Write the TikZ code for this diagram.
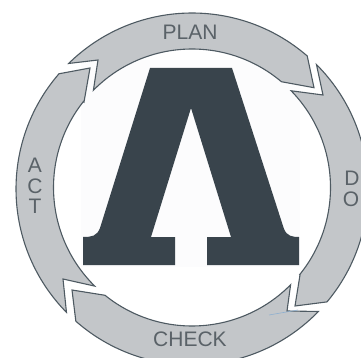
\documentclass[tikz,border=0pt]{standalone}
\usepackage{fontspec}
\setmainfont{Liberation Sans}
\definecolor{ringfill}{HTML}{C3C6C9}
\definecolor{ringline}{HTML}{4E5A62}
\definecolor{logodark}{HTML}{39444C}
\definecolor{labelgray}{HTML}{5A6268}
\definecolor{paleback}{HTML}{FCFCFD}
\definecolor{paleblue}{HTML}{8FB0D0}
\tikzset{
  ringpiece/.style={fill=ringfill,draw=ringline,line width=1.1pt,line join=miter,miter limit=6},
  ringlabel/.style={text=labelgray,font=\fontsize{21}{21}\selectfont,inner sep=0pt},
  vlabel/.style={text=labelgray,font=\fontsize{21}{21}\selectfont,inner sep=0pt,anchor=center}
}
\begin{document}
\begin{tikzpicture}[x=1pt,y=1pt,yscale=-1]
\useasboundingbox (0,0) rectangle (361,358);
\clip (0,0) rectangle (361,358);
\fill[paleback] (81,60) rectangle (300,267);
% PLAN
\path[ringpiece] ([shift={(192,189)}]225.5:176) arc[start angle=225.5,end angle=310.9,radius=176pt]
  -- (314,87.7) -- ([shift={(192,187.5)}]310.2:138.5) arc[start angle=310.2,end angle=224.6,radius=138.5pt]
  -- (98,60) -- cycle;
% DO
\path[ringpiece] ([shift={(192,189)}]-45:176) arc[start angle=-45,end angle=39.9,radius=176pt]
  -- (295,306) -- (300,275) -- ([shift={(192,187.5)}]39:138.5) arc[start angle=39,end angle=-44.3,radius=138.5pt]
  -- (323,95) -- cycle;
% CHECK
\path[ringpiece] ([shift={(192,189)}]44.1:176) arc[start angle=44.1,end angle=131.3,radius=176pt]
  -- (72,290) -- ([shift={(192,187.5)}]128.9:138.5) arc[start angle=128.9,end angle=44.6,radius=138.5pt]
  -- (287,311) -- cycle;
% ACT
\path[ringpiece] ([shift={(192,189)}]135.5:176) arc[start angle=135.5,end angle=220.9,radius=176pt]
  -- (90,68) -- (84,102) -- ([shift={(192,187.5)}]218.4:138.5) arc[start angle=218.4,end angle=134.6,radius=138.5pt]
  -- (63,279) -- cycle;
% logo
\fill[logodark] (150,68) -- (232,68) -- (284,229)
  .. controls (287,236) and (292,237) .. (299,237)
  -- (299,265) -- (207,265) -- (207,237) -- (231,237) -- (191,108) -- (151,237) -- (175,237) -- (175,265)
  -- (83,265) -- (83,237)
  .. controls (92,237) and (97,236) .. (100,228) -- cycle;
% stray blue line
\draw[paleblue,line width=0.6pt] (269,315) -- (298,310);
% labels
\node[ringlabel] (plan) at (190,32) {PLAN};
\node[ringlabel] (check) at (190,339.5) {CHECK};
\node[vlabel] (acta) at (35,165) {A};
\node[vlabel] (actc) at (35,186) {C};
\node[vlabel] (actt) at (35,206) {T};
\node[vlabel] (dod) at (352,178) {D};
\node[vlabel] (doo) at (351,199) {O};
\end{tikzpicture}
\end{document}
